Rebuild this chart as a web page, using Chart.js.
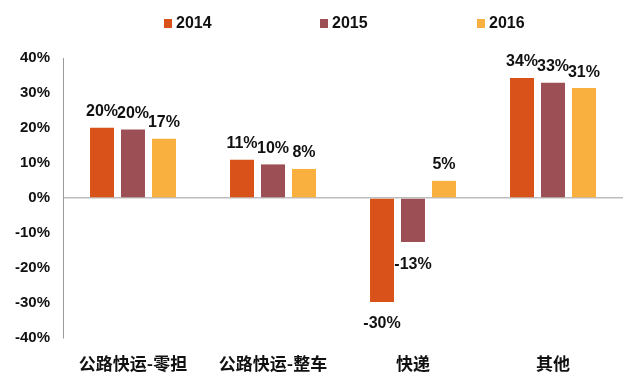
<!DOCTYPE html>
<html>
<head>
<meta charset="utf-8">
<script src="https://cdn.jsdelivr.net/npm/chart.js@4.4.1/dist/chart.umd.min.js"></script>
<style>
    html, body { margin: 0; padding: 0; background: #fff; }
    #wrap { position: relative; width: 640px; height: 384px; }
    #legend { position: absolute; top: 13px; left: 0; width: 640px; height: 20px;
              font: bold 16px "Liberation Sans", Arial, sans-serif; color: #111; }
    .item { position: absolute; top: 0; display: flex; align-items: center; height: 20px; }
    .box { width: 8px; height: 9px; margin-right: 4px; }
</style>
</head>
<body>
<div id="wrap">
    <canvas id="chart" width="640" height="384"></canvas>
    <div id="legend"></div>
</div>
<script>
const categories = ["公路快运-零担", "公路快运-整车", "快递", "其他"];
const years = ["2014", "2015", "2016"];
const values2014 = [20.1, 10.9, -29.7, 34.3];
const values2015 = [19.6, 9.6, -12.6, 32.9];
const values2016 = [16.9, 8.3, 4.9, 31.4];
const valueLabels = [
    ["20%", "11%", "-30%", "34%"],
    ["20%", "10%", "-13%", "33%"],
    ["17%", "8%", "5%", "31%"]
];
const colors = ["#D9521A", "#9C4F55", "#F9B03E"];
const legendLeft = [164, 320, 477];

// legend drawn as html above the canvas
const legendEl = document.getElementById('legend');
years.forEach((y, i) => {
    const item = document.createElement('div');
    item.className = 'item';
    item.style.left = legendLeft[i] + 'px';
    item.innerHTML = `<span class="box" style="background:${colors[i]}"></span>${y}`;
    legendEl.appendChild(item);
});

const barLabels = {
    id: 'barLabels',
    afterDatasetsDraw(chart) {
        const ctx = chart.ctx;
        ctx.save();
        ctx.font = 'bold 16px "Liberation Sans", Arial, sans-serif';
        ctx.fillStyle = '#111';
        ctx.textAlign = 'center';
        chart.data.datasets.forEach((ds, di) => {
            chart.getDatasetMeta(di).data.forEach((bar, i) => {
                const v = ds.data[i];
                if (v >= 0) {
                    ctx.textBaseline = 'bottom';
                    ctx.fillText(valueLabels[di][i], bar.x, bar.y - 8);
                } else {
                    ctx.textBaseline = 'top';
                    ctx.fillText(valueLabels[di][i], bar.x, bar.y + 14);
                }
            });
        });
        ctx.restore();
    }
};

new Chart(document.getElementById('chart'), {
    type: 'bar',
    data: {
        labels: categories,
        datasets: [
            { label: years[0], data: values2014, backgroundColor: colors[0] },
            { label: years[1], data: values2015, backgroundColor: colors[1] },
            { label: years[2], data: values2016, backgroundColor: colors[2] }
        ]
    },
    options: {
        responsive: false,
        animation: false,
        layout: { padding: { top: 58, right: 17, left: 0, bottom: 0 } },
        datasets: {
            bar: { categoryPercentage: 0.664, barPercentage: 0.774 }
        },
        plugins: {
            legend: { display: false },
            tooltip: { enabled: false }
        },
        scales: {
            x: {
                grid: { display: false, drawTicks: false },
                border: { display: false },
                ticks: {
                    padding: 15,
                    color: '#111',
                    font: { family: '"Noto Sans CJK SC", sans-serif', size: 17, weight: 'bold' }
                },
                afterFit(scale) { scale.height = 46; }
            },
            y: {
                min: -40,
                max: 40,
                ticks: {
                    stepSize: 10,
                    padding: 13,
                    color: '#111',
                    font: { family: '"Liberation Sans", Arial, sans-serif', size: 15, weight: 'bold' },
                    callback: v => v + '%'
                },
                grid: {
                    drawTicks: false,
                    color: ctx => ctx.tick && ctx.tick.value === 0 ? '#bdbdbd' : 'rgba(0,0,0,0)',
                    lineWidth: 1.5
                },
                border: { display: true, color: '#9a9a9a', width: 1 },
                afterFit(scale) { scale.width = 63; }
            }
        }
    },
    plugins: [barLabels]
});
</script>
</body>
</html>
